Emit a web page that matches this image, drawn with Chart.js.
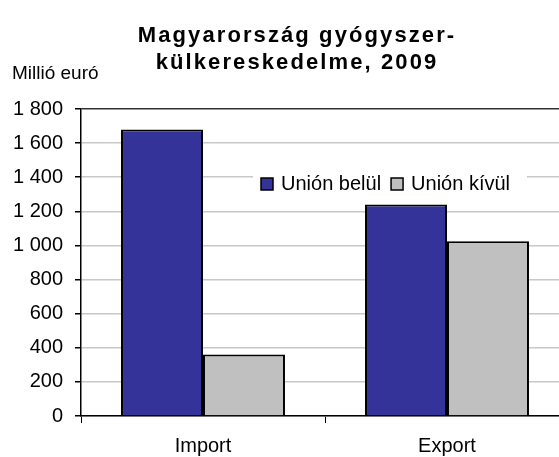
<!DOCTYPE html>
<html>
<head>
<meta charset="utf-8">
<script src="https://cdn.jsdelivr.net/npm/chart.js@4/dist/chart.umd.min.js"></script>
<style>
  html, body { margin: 0; padding: 0; background: #fff; overflow: hidden; }
  #wrap { width: 572px; height: 457px; }
</style>
</head>
<body>
<div id="wrap"><canvas id="chart"></canvas></div>
<script>
// datos
const categorias = ['Import', 'Export']
const unionBelul = [1680, 1240]
const unionKivul = [360, 1025]
const tituloLineas = ['Magyarország gyógyszer-', 'külkereskedelme, 2009']
const unidad = 'Millió euró'

const fuente = '"Liberation Sans", Arial, sans-serif'

function conEspacio(v) {
  return String(v).replace(/\B(?=(\d{3})+(?!\d))/g, ' ')
}

// titulo y unidad dibujados a mano (con letter-spacing)
const textos = {
  id: 'textos',
  afterDraw(chart) {
    const ctx = chart.ctx
    ctx.save()
    ctx.fillStyle = '#000'
    ctx.textAlign = 'center'
    ctx.textBaseline = 'middle'
    ctx.font = 'bold 22px ' + fuente
    ctx.letterSpacing = '2.1px'
    ctx.fillText(tituloLineas[0], 297, 36)
    ctx.fillText(tituloLineas[1], 297, 63)
    ctx.letterSpacing = '0px'
    ctx.textAlign = 'left'
    ctx.font = '19px ' + fuente
    ctx.fillText(unidad, 12, 74)
    ctx.restore()
  }
}

// leyenda dentro del area
const leyenda = {
  id: 'leyenda',
  afterDraw(chart) {
    const ctx = chart.ctx
    ctx.save()
    ctx.font = '20px ' + fuente
    ctx.textBaseline = 'middle'
    const y = 184
    ctx.fillStyle = '#fff'
    ctx.fillRect(253, y - 13, 274, 26)
    let x = 261
    chart.data.datasets.forEach(ds => {
      ctx.fillStyle = ds.backgroundColor
      ctx.fillRect(x, y - 6, 12, 12)
      ctx.strokeStyle = '#000'
      ctx.lineWidth = 1.5
      ctx.strokeRect(x, y - 6, 12, 12)
      ctx.fillStyle = '#000'
      ctx.fillText(ds.label, x + 20, y)
      x += 20 + ctx.measureText(ds.label).width + 10
    })
    ctx.restore()
  }
}

const ctx = document.getElementById('chart').getContext('2d')

new Chart(ctx, {
  type: 'bar',
  data: {
    labels: categorias,
    datasets: [
      {
        label: 'Unión belül',
        data: unionBelul,
        backgroundColor: '#333399',
        borderColor: '#000',
        borderWidth: 2
      },
      {
        label: 'Unión kívül',
        data: unionKivul,
        backgroundColor: '#c0c0c0',
        borderColor: '#000',
        borderWidth: 2
      }
    ]
  },
  options: {
    responsive: true,
    maintainAspectRatio: false,
    animation: false,
    layout: { padding: { top: 109, right: 3, left: 0, bottom: 0 } },
    plugins: {
      legend: { display: false },
      title: { display: false },
      tooltip: { enabled: false }
    },
    datasets: {
      bar: { categoryPercentage: 0.672, barPercentage: 1 }
    },
    scales: {
      x: {
        afterFit(scale) { scale.height = 41 },
        border: { color: '#000', width: 1.5 },
        grid: {
          drawOnChartArea: false,
          drawTicks: true,
          tickLength: 7,
          tickColor: '#000',
          offset: true
        },
        ticks: {
          color: '#000',
          padding: 11,
          font: { family: fuente, size: 20 }
        }
      },
      y: {
        min: 0,
        max: 1800,
        afterFit(scale) { scale.width = 81 },
        border: { color: '#000', width: 1.5 },
        grid: {
          color: c => c.tick && c.tick.value === 1800 ? '#333' : '#c8c8c8',
          lineWidth: 1.5,
          tickLength: 6,
          tickColor: '#000'
        },
        ticks: {
          stepSize: 200,
          color: '#000',
          padding: 12,
          font: { family: fuente, size: 20 },
          callback: v => conEspacio(v)
        }
      }
    }
  },
  plugins: [textos, leyenda]
})
</script>
</body>
</html>
